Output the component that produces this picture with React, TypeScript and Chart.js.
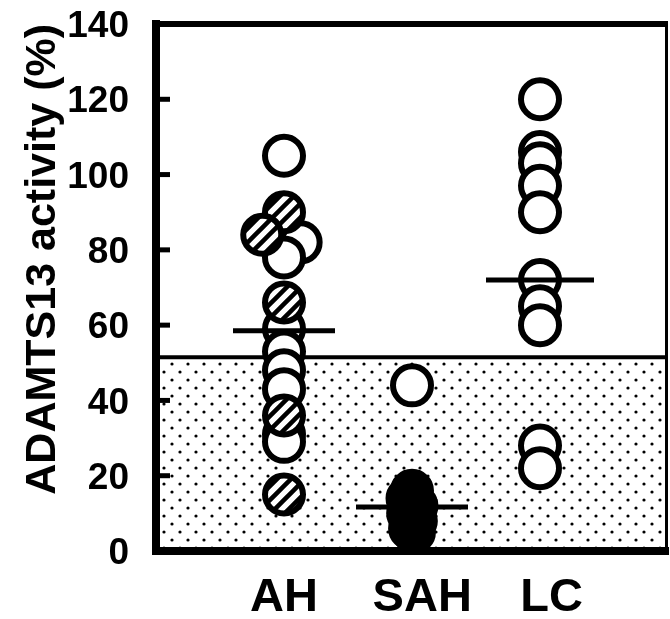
import React, { useEffect, useRef } from 'react';
import { Chart, registerables } from 'chart.js';

Chart.register(...registerables);

// ---- data ----
const categories = ['AH', 'SAH', 'LC'];
const categoryX = [1, 2, 3];
const labelX = [1, 2.08, 3.09];
const yTicks = [0, 20, 40, 60, 80, 100, 120, 140];

const ahOpen = [105, 82, 78, 59, 53, 48, 43, 31, 29];
const ahOpenJitter = [0, 0.13, 0, 0, 0, 0, 0, 0, 0];
const ahHatched = [90, 84, 66, 36, 15];
const ahHatchedJitter = [0, -0.17, 0, 0, 0];
const sahOpen = [44];
const sahFilled = [16, 14, 12, 10, 8, 6, 5];
const sahFilledJitter = [0, -0.035, 0.035, -0.03, 0.03, -0.015, 0.015];
const lcOpen = [120, 106, 103, 97, 90, 72, 65, 60, 28, 22];
const medians = [58.5, 11.7, 72];
const normalLowerLimit = 51.5;

const FONT = "'Liberation Sans', Arial, sans-serif";

function makeHatch(): CanvasPattern | string {
  const c = document.createElement('canvas');
  const s = 14;
  c.width = s; c.height = s;
  const g = c.getContext('2d');
  if (!g) return '#fff';
  g.fillStyle = '#fff';
  g.fillRect(0, 0, s, s);
  g.strokeStyle = '#000';
  g.lineWidth = 4.5;
  g.beginPath();
  g.moveTo(-s, 2 * s); g.lineTo(2 * s, -s);
  g.moveTo(-s, s); g.lineTo(s, -s);
  g.moveTo(0, 2 * s); g.lineTo(2 * s, 0);
  g.stroke();
  return g.createPattern(c, 'repeat') || '#fff';
}

function makeDots(): CanvasPattern | string {
  const c = document.createElement('canvas');
  c.width = 16; c.height = 16;
  const g = c.getContext('2d');
  if (!g) return '#fff';
  g.fillStyle = '#fff';
  g.fillRect(0, 0, 16, 16);
  g.fillStyle = '#000';
  const dots = [[4, 4], [12, 12]];
  dots.forEach(([x, y]) => { g.beginPath(); g.arc(x, y, 1.6, 0, Math.PI * 2); g.fill(); });
  return g.createPattern(c, 'repeat') || '#fff';
}

export default function App() {
  const ref = useRef<HTMLCanvasElement | null>(null);

  useEffect(() => {
    if (!ref.current) return;
    const hatch = makeHatch();
    const dots = makeDots();

    const framePlugin = {
      id: 'frame',
      beforeDraw(chart: any) {
        const { ctx, chartArea, scales } = chart;
        const { left, right, bottom } = chartArea;
        const yl = scales.y.getPixelForValue(normalLowerLimit);
        ctx.save();
        ctx.fillStyle = dots;
        ctx.fillRect(left, yl, right - left, bottom - yl);
        ctx.strokeStyle = '#000';
        ctx.lineWidth = 4;
        ctx.beginPath();
        ctx.moveTo(left, yl);
        ctx.lineTo(right, yl);
        ctx.stroke();
        ctx.restore();
      },
      afterDraw(chart: any) {
        const { ctx, chartArea, scales } = chart;
        const { left, right, top, bottom } = chartArea;
        ctx.save();
        ctx.strokeStyle = '#000';
        ctx.lineWidth = 6;
        ctx.beginPath();
        ctx.moveTo(left - 4, top);
        ctx.lineTo(right, top);
        ctx.stroke();
        ctx.lineWidth = 3;
        ctx.beginPath();
        ctx.moveTo(right - 1.5, top);
        ctx.lineTo(right - 1.5, bottom);
        ctx.stroke();
        ctx.lineWidth = 5;
        yTicks.forEach((v) => {
          const py = scales.y.getPixelForValue(v);
          ctx.beginPath();
          ctx.moveTo(left, py);
          ctx.lineTo(left + 14, py);
          ctx.stroke();
        });
        ctx.restore();
      },
    };

    const openData = [
      ...ahOpen.map((v, i) => ({ x: categoryX[0] + ahOpenJitter[i], y: v })),
      ...sahOpen.map((v) => ({ x: categoryX[1], y: v })),
      ...lcOpen.map((v) => ({ x: categoryX[2], y: v })),
    ];
    const hatchedData = ahHatched.map((v, i) => ({ x: categoryX[0] + ahHatchedJitter[i], y: v }));
    const filledData = sahFilled.map((v, i) => ({ x: categoryX[1] + sahFilledJitter[i], y: v }));
    const medianData = medians.map((m, i) => ({ x: categoryX[i], y: m }));

    const chart = new Chart(ref.current, {
      type: 'scatter',
      data: {
        datasets: [
          {
            label: 'median',
            data: medianData,
            pointStyle: 'line',
            pointRadius: [51, 56, 54],
            borderColor: '#000',
            borderWidth: 5,
            order: 0,
          } as any,
          {
            label: 'SAH',
            data: filledData,
            pointRadius: 19,
            borderWidth: 6,
            borderColor: '#000',
            backgroundColor: '#000',
            order: 1,
          },
          {
            label: 'AH hatched',
            data: hatchedData,
            pointRadius: 19,
            borderWidth: 6,
            borderColor: '#000',
            backgroundColor: hatch as any,
            order: 2,
          },
          {
            label: 'open',
            data: openData,
            pointRadius: 19,
            borderWidth: 6,
            borderColor: '#000',
            backgroundColor: '#fff',
            order: 3,
          },
        ],
      },
      options: {
        responsive: false,
        animation: false,
        events: [],
        layout: { autoPadding: false, padding: { left: 0, top: 24, right: 2, bottom: 0 } },
        plugins: { legend: { display: false }, tooltip: { enabled: false } },
        scales: {
          x: {
            type: 'linear',
            min: 0,
            max: 4,
            afterBuildTicks: (s: any) => { s.ticks = labelX.map((v) => ({ value: v })); },
            afterFit: (s: any) => { s.height = 68; },
            ticks: {
              callback: (_v: any, i: number) => categories[i],
              font: { family: FONT, size: 47, weight: 'bold' },
              color: '#000',
              padding: 0,
              autoSkip: false,
              maxRotation: 0,
            },
            grid: { display: false, drawTicks: true, tickLength: 19 },
            border: { display: true, width: 8, color: '#000' },
          },
          y: {
            type: 'linear',
            min: 0,
            max: 140,
            afterBuildTicks: (s: any) => { s.ticks = yTicks.map((v) => ({ value: v })); },
            afterFit: (s: any) => { s.width = 156; },
            ticks: {
              font: { family: FONT, size: 37, weight: 'bold' },
              color: '#000',
              padding: 0,
              labelOffset: 3,
              autoSkip: false,
            },
            grid: { display: false, drawTicks: true, tickLength: 27 },
            border: { display: true, width: 8, color: '#000' },
            title: {
              display: true,
              text: 'ADAMTS13 activity (%)',
              align: 'end',
              color: '#000',
              font: { family: FONT, size: 43, weight: 'bold', lineHeight: 1.2 },
              padding: { top: 17, bottom: 0 },
            },
          },
        },
      },
      plugins: [framePlugin],
    });

    return () => chart.destroy();
  }, []);

  return (
    <div style={{ position: 'absolute', left: 0, top: 0, width: 670, height: 619, background: '#fff' }}>
      <canvas ref={ref} width={670} height={619} style={{ display: 'block' }} />
    </div>
  );
}
